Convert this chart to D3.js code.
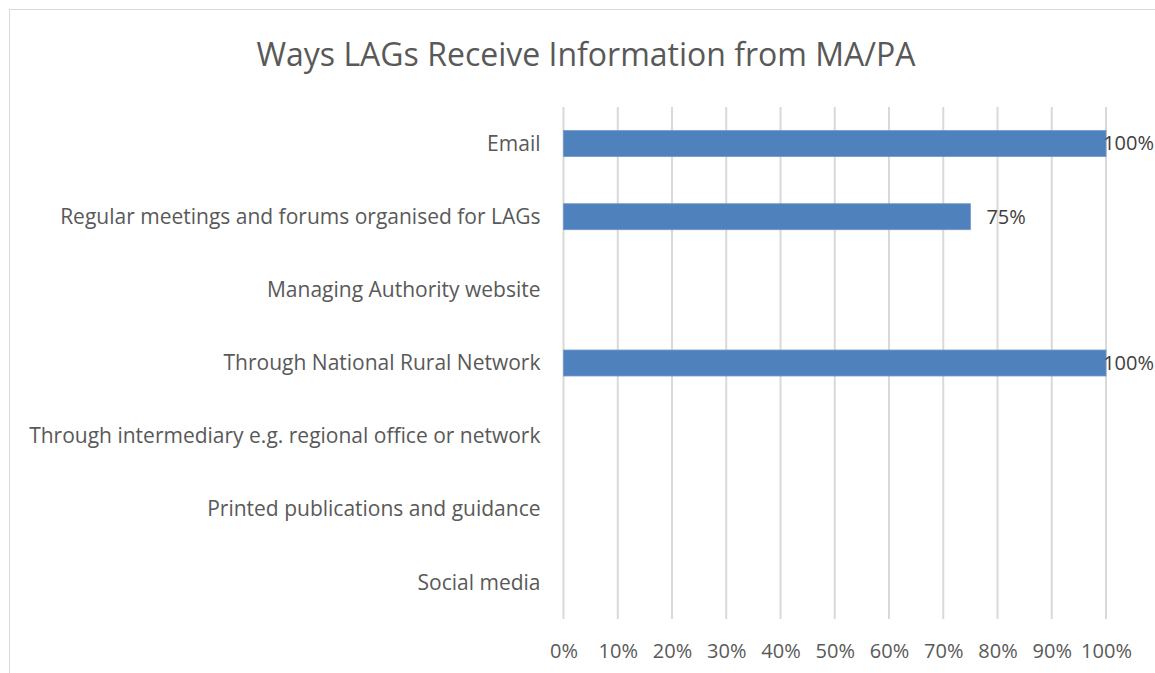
<!DOCTYPE html>
<html>
<head>
<meta charset="utf-8">
<script src="https://cdn.jsdelivr.net/npm/d3@7"></script>
<style>
  body { margin: 0; background: #fff; }
  text { font-family: "Open Sans", sans-serif; }
</style>
</head>
<body>
<div id="chart"></div>
<script>
const categories = [
  "Email",
  "Regular meetings and forums organised for LAGs",
  "Managing Authority website",
  "Through National Rural Network",
  "Through intermediary e.g. regional office or network",
  "Printed publications and guidance",
  "Social media"
];
const values = [1.00, 0.75, null, 1.00, null, null, null];
const tickValues = [0, 0.1, 0.2, 0.3, 0.4, 0.5, 0.6, 0.7, 0.8, 0.9, 1.0];
const title = "Ways LAGs Receive Information from MA/PA";

const width = 1155, height = 673;
const margin = { top: 107, right: 49, bottom: 54, left: 563.5 };
const textColor = "#595959";
const barColor = "#4f81bd";
const gridColor = "#d9d9d9";
const fontFamily = "'Open Sans', sans-serif";

const svg = d3.select("#chart").append("svg")
  .attr("width", width)
  .attr("height", height);

// chart area border
svg.append("rect")
  .attr("x", 9.5).attr("y", 9.5)
  .attr("width", width).attr("height", height)
  .attr("fill", "none")
  .attr("stroke", "#d9d9d9");

svg.append("text")
  .attr("x", 586).attr("y", 66)
  .attr("text-anchor", "middle")
  .attr("font-size", "32px")
  .attr("fill", textColor)
  .text(title);

const x = d3.scaleLinear()
  .domain([0, 1])
  .range([margin.left, width - margin.right]);

const y = d3.scaleBand()
  .domain(categories)
  .range([margin.top, height - margin.bottom])
  .paddingInner(0.645)
  .paddingOuter(0.3225);

// gridlines
svg.append("g")
  .selectAll("line")
  .data(tickValues)
  .enter()
  .append("line")
  .attr("x1", d => x(d)).attr("x2", d => x(d))
  .attr("y1", margin.top).attr("y2", height - margin.bottom)
  .attr("stroke", gridColor)
  .attr("stroke-width", 2);

// x axis labels
const xAxis = svg.append("g")
  .attr("transform", `translate(0, ${height - margin.bottom})`)
  .call(d3.axisBottom(x).tickValues(tickValues).tickFormat(d3.format(".0%")).tickSize(0).tickPadding(25));
xAxis.select(".domain").remove();
xAxis.selectAll("text")
  .attr("font-size", "20px")
  .attr("font-family", fontFamily)
  .attr("fill", textColor);

// y axis labels
const yAxis = svg.append("g")
  .attr("transform", `translate(${margin.left}, 0)`)
  .call(d3.axisLeft(y).tickSize(0).tickPadding(23));
yAxis.select(".domain").remove();
yAxis.selectAll("text")
  .attr("font-size", "21px")
  .attr("dy", "0.34em")
  .attr("font-family", fontFamily)
  .attr("fill", textColor);

const data = categories.map((c, i) => ({ cat: c, v: values[i] })).filter(d => d.v != null);

// bars
svg.selectAll("rect.bar")
  .data(data)
  .enter()
  .append("rect")
  .attr("class", "bar")
  .attr("x", x(0))
  .attr("y", d => y(d.cat))
  .attr("width", d => x(d.v) - x(0))
  .attr("height", y.bandwidth())
  .attr("fill", barColor)
  .attr("stroke", "#6f97cc")
  .attr("stroke-width", 0.8);

// value labels
svg.selectAll("text.lbl")
  .data(data)
  .enter()
  .append("text")
  .attr("class", "lbl")
  .attr("font-size", "20px")
  .attr("fill", "#404040")
  .attr("dy", "0.34em")
  .attr("y", d => y(d.cat) + y.bandwidth() / 2)
  .attr("x", d => x(d.v) + 16 > width - 55 ? width - 1 : x(d.v) + 16)
  .attr("text-anchor", d => x(d.v) + 16 > width - 55 ? "end" : "start")
  .text(d => d3.format(".0%")(d.v));
</script>
</body>
</html>
